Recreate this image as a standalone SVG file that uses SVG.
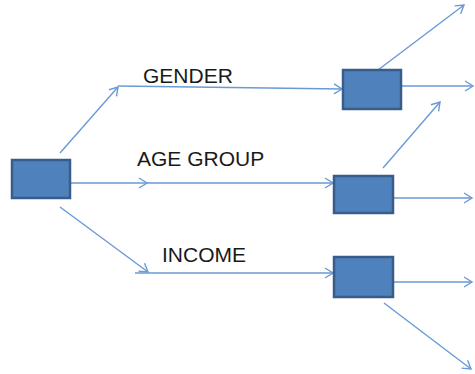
<svg xmlns="http://www.w3.org/2000/svg" width="475" height="374" viewBox="0 0 475 374">
<style>
.box{fill:#4F81BD;stroke:#385D8A;stroke-width:2.5}
.ln{stroke:#6A9AD4;stroke-width:1.4;fill:none;marker-end:url(#arr)}
.lbl{font-family:"Liberation Sans",Arial,sans-serif;font-size:21px;fill:#1a1a1a}
</style>
<defs>
<marker id="arr" markerUnits="userSpaceOnUse" markerWidth="14" markerHeight="14" refX="9" refY="6" orient="auto" viewBox="0 0 14 12">
<path d="M1,1 L9,6 L1,11" fill="none" stroke="#6A9AD4" stroke-width="1.4"/>
</marker>
</defs>
<g id="connectors">
<line class="ln" x1="60" y1="153" x2="118" y2="87"/>
<line class="ln" x1="118" y1="86" x2="342" y2="89"/>
<line class="ln" x1="70" y1="183" x2="147" y2="183"/>
<line class="ln" x1="147" y1="183" x2="333" y2="183"/>
<line class="ln" x1="60" y1="207" x2="148" y2="272"/>
<line class="ln" x1="135" y1="273" x2="333" y2="273"/>
<line class="ln" x1="378" y1="70" x2="464" y2="5"/>
<line class="ln" x1="401" y1="86" x2="473" y2="86"/>
<line class="ln" x1="383" y1="168" x2="440" y2="102"/>
<line class="ln" x1="393" y1="198" x2="472" y2="198"/>
<line class="ln" x1="393" y1="282" x2="472" y2="282"/>
<line class="ln" x1="384" y1="303" x2="471" y2="369"/>
</g>
<g id="root"><rect class="box" x="12" y="160" width="58" height="38"/></g>
<g id="gender"><rect class="box" x="343" y="70" width="58" height="39"/></g>
<g id="age"><rect class="box" x="334" y="176" width="59" height="37"/></g>
<g id="income"><rect class="box" x="334" y="257" width="59" height="40"/></g>
<g id="labels">
<text class="lbl" x="143" y="83">GENDER</text>
<text class="lbl" x="137" y="166">AGE GROUP</text>
<text class="lbl" x="162" y="262">INCOME</text>
</g>
</svg>
